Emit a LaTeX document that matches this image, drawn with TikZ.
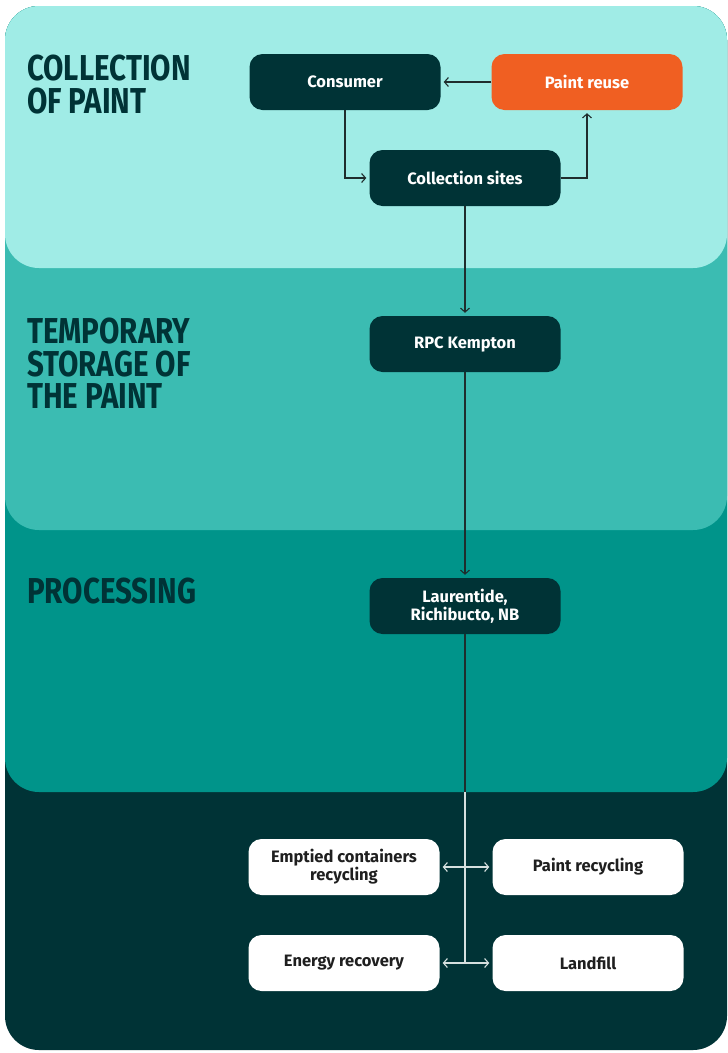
\documentclass[tikz,border=0pt]{standalone}
\usepackage{fontspec}
\setmainfont{Fira Sans}
\newfontfamily\headfont[FakeStretch=0.82]{Fira Sans}
\usetikzlibrary{arrows.meta}
\definecolor{mint}{HTML}{A0ECE6}
\definecolor{lagoon}{HTML}{3BBCB2}
\definecolor{seagreen}{HTML}{00948A}
\definecolor{deep}{HTML}{003336}
\definecolor{reuse}{HTML}{F05F22}
\definecolor{wire}{HTML}{1F2D2D}
\definecolor{wirelight}{HTML}{D5E0DF}
\begin{document}
\begin{tikzpicture}[x=1pt,y=-1pt,
    box/.style={rounded corners=13pt,minimum width=191pt,minimum height=56pt,align=center,
        font=\bfseries\fontsize{16.5}{18}\selectfont},
    darkbox/.style={box,fill=deep,text=white},
    orangebox/.style={box,fill=reuse,text=white},
    whitebox/.style={box,fill=white,text=black!88},
    head/.style={anchor=north west,inner sep=0pt,align=left,text=deep,
        font=\headfont\bfseries\fontsize{36}{32.5}\selectfont},
    >={Straight Barb[length=4pt,width=9pt]}]
    \useasboundingbox (0,0) rectangle (728,1053);
    \fill[white] (0,0) rectangle (728,1053);
    % stacked panels
    \fill[deep,rounded corners=34pt] (5,6) rectangle (727,1050);
    \fill[seagreen,rounded corners=34pt] (5,6) rectangle (727,792);
    \fill[lagoon,rounded corners=34pt] (5,6) rectangle (727,530);
    \fill[mint,rounded corners=34pt] (5,6) rectangle (727,268);

    \draw (27,55) node[head](h1) {COLLECTION\\OF PAINT};
    \draw (27,318) node[head](h2) {TEMPORARY\\STORAGE OF\\THE PAINT};
    \draw (27,578) node[head](h3) {PROCESSING};
    \draw (27,840) node[head](h4) {DISPOSITION};

    \draw (345,82) node[darkbox](consumer) {Consumer};
    \draw (587,82) node[orangebox](paintreuse) {Paint reuse};
    \draw (465,178) node[darkbox](sites) {Collection sites};
    \draw (465,344) node[darkbox](rpc) {RPC Kempton};
    \draw (465,606) node[darkbox](laurentide) {Laurentide,\\Richibucto, NB};
    \draw (344,867) node[whitebox](containers) {Emptied containers\\recycling};
    \draw (588,867) node[whitebox](paintrec) {Paint recycling};
    \draw (344,963) node[whitebox](energy) {Energy recovery};
    \draw (588,963) node[whitebox](landfill) {Landfill};
    \coordinate (split) at (465,792);
    \coordinate (foot) at (465,963);

    \draw[->,wire,line width=1.1pt,shorten >=3pt] (paintreuse) -- (consumer);
    \draw[->,wire,line width=1.1pt,shorten >=3pt] (consumer) |- (sites);
    \draw[->,wire,line width=1.1pt,shorten >=3pt] (sites) -| (paintreuse);
    \draw[->,wire,line width=1.1pt,shorten >=3pt] (sites) -- (rpc);
    \draw[->,wire,line width=1.1pt,shorten >=3pt] (rpc) -- (laurentide);
    \draw[wire,line width=1.1pt] (laurentide) -- (split);
    \draw[wirelight,line width=1.1pt] (split) -- (foot);
    \draw[<->,wirelight,line width=1.1pt,shorten >=3pt,shorten <=3pt] (containers) -- (paintrec);
    \draw[<->,wirelight,line width=1.1pt,shorten >=3pt,shorten <=3pt] (energy) -- (landfill);
\end{tikzpicture}
\end{document}
